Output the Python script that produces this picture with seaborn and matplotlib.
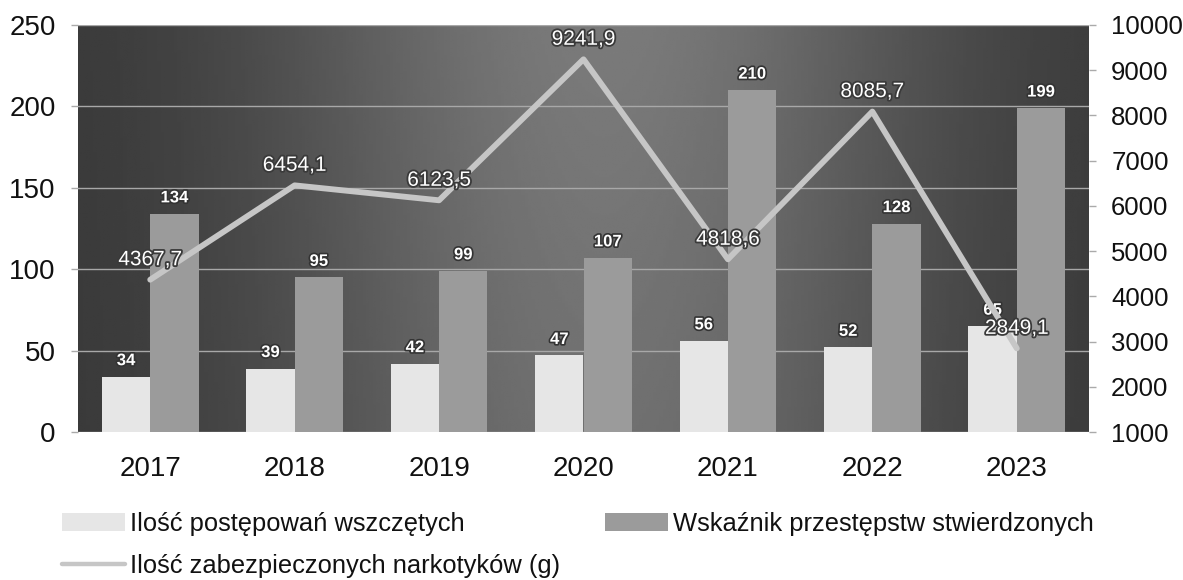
import numpy as np
import pandas as pd
import matplotlib
matplotlib.use("Agg")
import matplotlib.pyplot as plt
import matplotlib.patheffects as pe
from matplotlib.patches import Patch
from matplotlib.lines import Line2D
import seaborn as sns

years = ["2017", "2018", "2019", "2020", "2021", "2022", "2023"]
postepowania = [34, 39, 42, 47, 56, 52, 65]
przestepstwa = [134, 95, 99, 107, 210, 128, 199]
narkotyki = [4367.7, 6454.1, 6123.5, 9241.9, 4818.6, 8085.7, 2849.1]

name_a = "Ilość postępowań wszczętych"
name_b = "Wskaźnik przestępstw stwierdzonych"
name_c = "Ilość zabezpieczonych narkotyków (g)"

sns.set_theme(style="white")
plt.rcParams['font.family'] = ['Liberation Sans', 'DejaVu Sans']

c_light = "#e6e6e6"
c_dark = "#9b9b9b"
c_line = "#c6c6c6"

df = pd.DataFrame({
    "rok": years * 2,
    "wartosc": postepowania + przestepstwa,
    "seria": [name_a] * len(years) + [name_b] * len(years),
})

fig = plt.figure(figsize=(11.83, 5.8), dpi=100)
ax = fig.add_axes([78 / 1183, 1 - 432 / 580, (1089 - 78) / 1183, (432 - 25) / 580])

# gradient background
xs = np.linspace(0, 1, 300)
ys = np.linspace(0, 1, 200)
X, Y = np.meshgrid(xs, ys)
B = 0.21 + 0.27 * np.exp(-((X - 0.52) / 0.33) ** 2) * (0.85 + 0.15 * (1 - Y))
ax.imshow(B, extent=[0, 1, 0, 1], transform=ax.transAxes, aspect='auto',
          cmap='gray', vmin=0, vmax=1, zorder=0, origin='upper')

sns.barplot(data=df, x="rok", y="wartosc", hue="seria", ax=ax,
            palette=[c_light, c_dark], width=0.67, gap=0, saturation=1,
            legend=False, zorder=2, linewidth=0, edgecolor='none')
ax.set_xlim(-0.5, len(years) - 0.5)
ax.set_ylim(0, 250)
ax.set_yticks(range(0, 251, 50))
ax.set_xlabel("")
ax.set_ylabel("")
ax.grid(axis='y', color='#a8a8a8', linewidth=1.0)
ax.grid(axis='x', visible=False)
ax.set_axisbelow(True)
for s in ax.spines.values():
    s.set_visible(False)

outline = [pe.withStroke(linewidth=2.4, foreground='#333333')]
for cont in ax.containers:
    for rect in cont:
        h = rect.get_height()
        ax.annotate(f"{int(round(h))}", (rect.get_x() + rect.get_width() / 2, h),
                    xytext=(0, 16), textcoords='offset pixels', ha='center', va='center',
                    fontsize=12, fontweight='bold', color='white', path_effects=outline, zorder=5)

ax2 = ax.twinx()
sns.lineplot(x=np.arange(len(years)), y=narkotyki, ax=ax2, color=c_line, linewidth=4.2,
             zorder=4, legend=False)
ax2.set_ylim(1000, 10000)
ax2.set_yticks(range(1000, 10001, 1000))
ax2.set_ylabel("")
ax2.grid(False)
for s in ax2.spines.values():
    s.set_visible(False)
outline2 = [pe.withStroke(linewidth=2.6, foreground='#3a3a3a')]
for i, v in enumerate(narkotyki):
    ax2.annotate(f"{v:.1f}".replace(".", ","), (i, v), xytext=(0, 20), textcoords='offset pixels',
                 ha='center', va='center', fontsize=15, color='white', path_effects=outline2, zorder=6)

ax.tick_params(axis='y', left=True, length=5, width=1, color='#aaaaaa', pad=11, labelsize=20, labelcolor='#111111')
ax.tick_params(axis='x', bottom=False, pad=11, labelsize=20, labelcolor='#111111')
ax2.tick_params(axis='y', right=True, length=5, width=1, color='#aaaaaa', pad=11, labelsize=18.5, labelcolor='#111111')

handles = [Patch(facecolor=c_light, edgecolor='none', label=name_a),
           Line2D([0], [0], color=c_line, linewidth=3.2, label=name_c),
           Patch(facecolor=c_dark, edgecolor='none', label=name_b)]
fig.legend(handles=handles, ncol=2, loc='upper left', bbox_to_anchor=(62 / 1183, 1 - 512 / 580),
           frameon=False, fontsize=18.4, handlelength=2.46, handletextpad=0.2, columnspacing=1.76,
           labelspacing=0.72, borderpad=0, borderaxespad=0, labelcolor='#111111')

fig.savefig("out.png", dpi=100, facecolor='white')
